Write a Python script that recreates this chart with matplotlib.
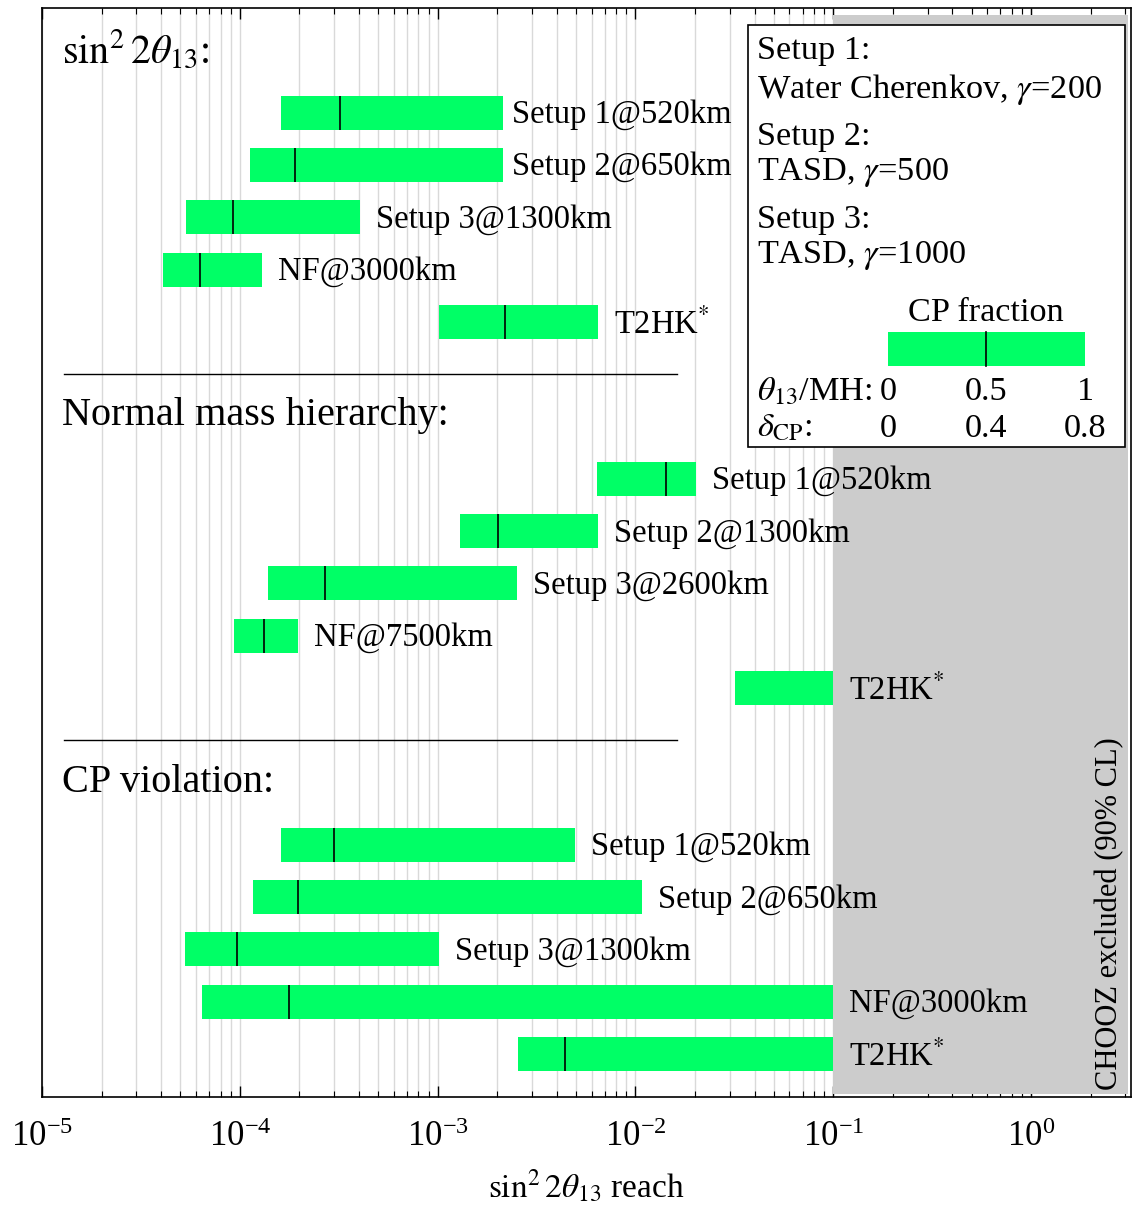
import numpy as np
import matplotlib.pyplot as plt
import matplotlib.ticker as mticker
from matplotlib.patches import Rectangle
import matplotlib.transforms as mtransforms

plt.rcParams['font.family'] = ['Liberation Serif', 'DejaVu Serif']
plt.rcParams['mathtext.fontset'] = 'stix'

# sin^2 2theta13 reach ranges (low end, high end, median of CP fraction)
th13_labels = ["Setup 1@520km", "Setup 2@650km", "Setup 3@1300km", "NF@3000km", r"T2HK$^{*}$"]
th13_low = [1.62e-4, 1.13e-4, 5.35e-5, 4.1e-5, 1.02e-3]
th13_high = [2.14e-3, 2.14e-3, 4.06e-4, 1.3e-4, 6.5e-3]
th13_mid = [3.2e-4, 1.9e-4, 9.25e-5, 6.3e-5, 2.2e-3]

mh_labels = ["Setup 1@520km", "Setup 2@1300km", "Setup 3@2600km", "NF@7500km", r"T2HK$^{*}$"]
mh_low = [6.4e-3, 1.29e-3, 1.39e-4, 9.35e-5, 3.2e-2]
mh_high = [2.03e-2, 6.5e-3, 2.52e-3, 1.97e-4, 0.1]
mh_mid = [1.43e-2, 2.02e-3, 2.7e-4, 1.33e-4, np.nan]

cp_labels = ["Setup 1@520km", "Setup 2@650km", "Setup 3@1300km", "NF@3000km", r"T2HK$^{*}$"]
cp_low = [1.62e-4, 1.17e-4, 5.3e-5, 6.45e-5, 2.55e-3]
cp_high = [4.96e-3, 1.08e-2, 1.02e-3, 0.1, 0.1]
cp_mid = [3.0e-4, 1.97e-4, 9.7e-5, 1.78e-4, 4.4e-3]

section_titles = [r"$\sin^2 2\theta_{13}$:", "Normal mass hierarchy:", "CP violation:"]
chooz_limit = 0.1

green = '#00ff66'
fs = 23.5     # bar labels
kfs = 24.7    # key box text

fig = plt.figure(figsize=(11.34, 12.09), dpi=100)
ax = fig.add_axes([42/1134, 1 - 1097/1209, 1089/1134, 1089/1209])
ax.set_xscale('log')
ax.set_xlim(1e-5, 3.2)
ax.set_ylim(20.82, 0)

sections = [
    (th13_labels, th13_low, th13_high, th13_mid),
    (mh_labels, mh_low, mh_high, mh_mid),
    (cp_labels, cp_low, cp_high, cp_mid),
]
ytrans = mtransforms.blended_transform_factory(ax.transAxes, ax.transData)

bar_h = 0.65
for k, (labels, low, high, mid) in enumerate(sections):
    y0 = 7 * k
    ax.text(0.018, y0 + 0.8, section_titles[k], fontsize=29, va='center', ha='left',
            transform=ytrans, zorder=4)
    for i in range(len(labels)):
        y = y0 + 2 + i
        ax.barh(y, high[i] - low[i], left=low[i], height=bar_h, color=green,
                edgecolor='none', zorder=2)
        if not np.isnan(mid[i]):
            ax.vlines(mid[i], y - bar_h / 2, y + bar_h / 2, color='black', lw=1.2, zorder=3)
        # first two labels squeezed left of the key box
        off = 9 if (k == 0 and i < 2) else 16
        ax.annotate(labels[i], (high[i], y), xytext=(off * 0.72, -1.5),
                    textcoords='offset points', va='center', ha='left',
                    fontsize=fs, zorder=4)
    if k < 2:
        ax.axhline(y0 + 7, xmin=0.0202, xmax=0.583, color='black', lw=1.0, zorder=3)

# CHOOZ excluded region
excl = Rectangle((chooz_limit, 0.003), 3.1 - chooz_limit, 0.9906,
                 transform=mtransforms.blended_transform_factory(ax.transData, ax.transAxes),
                 facecolor='#cccccc', edgecolor='none', zorder=1)
ax.add_patch(excl)
ax.text(0.980, 0.006, "CHOOZ excluded (90% CL)", rotation=90, ha='center', va='bottom',
        fontsize=22, transform=ax.transAxes, zorder=4)

# key box
ax.add_patch(Rectangle((0.648, 0.5969), 0.3465, 0.3875, transform=ax.transAxes,
                       facecolor='white', edgecolor='black', lw=1.2, zorder=5))
key_lines = [("Setup 1:", 0.9603), (r"Water Cherenkov, $\gamma$=200", 0.9254),
             ("Setup 2:", 0.8822), (r"TASD, $\gamma$=500", 0.8487),
             ("Setup 3:", 0.806), (r"TASD, $\gamma$=1000", 0.7725)]
for txt, yy in key_lines:
    ax.text(0.6566, yy, txt, fontsize=kfs, ha='left', va='center', transform=ax.transAxes, zorder=6)
ax.text(0.8669, 0.7197, "CP fraction", fontsize=kfs, ha='center', va='center',
        transform=ax.transAxes, zorder=6)
ax.add_patch(Rectangle((0.7769, 0.6713), 0.1809, 0.0312, transform=ax.transAxes,
                       facecolor=green, edgecolor='none', zorder=6))
ax.plot([0.8669, 0.8669], [0.6713, 0.7025], color='black', lw=1.2,
        transform=ax.transAxes, zorder=7)
ax.text(0.6566, 0.648, r"$\theta_{13}$/MH:", fontsize=kfs, ha='left', va='center',
        transform=ax.transAxes, zorder=6)
ax.text(0.6566, 0.614, r"$\delta_{\mathrm{CP}}$:", fontsize=kfs, ha='left', va='center',
        transform=ax.transAxes, zorder=6)
for xx, a, b in [(0.7769, "0", "0"), (0.8669, "0.5", "0.4"), (0.9578, "1", "0.8")]:
    ax.text(xx, 0.648, a, fontsize=kfs, ha='center', va='center', transform=ax.transAxes, zorder=6)
    ax.text(xx, 0.614, b, fontsize=kfs, ha='center', va='center', transform=ax.transAxes, zorder=6)

# axis styling
ax.xaxis.set_major_locator(mticker.LogLocator(base=10, numticks=10))
ax.xaxis.set_minor_locator(mticker.LogLocator(base=10, subs=np.arange(2, 10), numticks=20))
ax.xaxis.set_minor_formatter(mticker.NullFormatter())
ax.grid(True, which='both', axis='x', color='#d9d9d9', lw=1.0, zorder=0)
ax.set_axisbelow(True)
ax.set_yticks([])
ax.tick_params(axis='x', which='major', direction='in', length=8, width=1.0,
               top=True, labelsize=25, pad=17)
ax.tick_params(axis='x', which='minor', direction='in', length=4, width=0.8, top=True)
for s in ax.spines.values():
    s.set_linewidth(1.2)
    s.set_zorder(8)
ax.set_xlabel(r"$\sin^2 2\theta_{13}$ reach", fontsize=24, labelpad=10)

fig.savefig('out.png', dpi=100)
